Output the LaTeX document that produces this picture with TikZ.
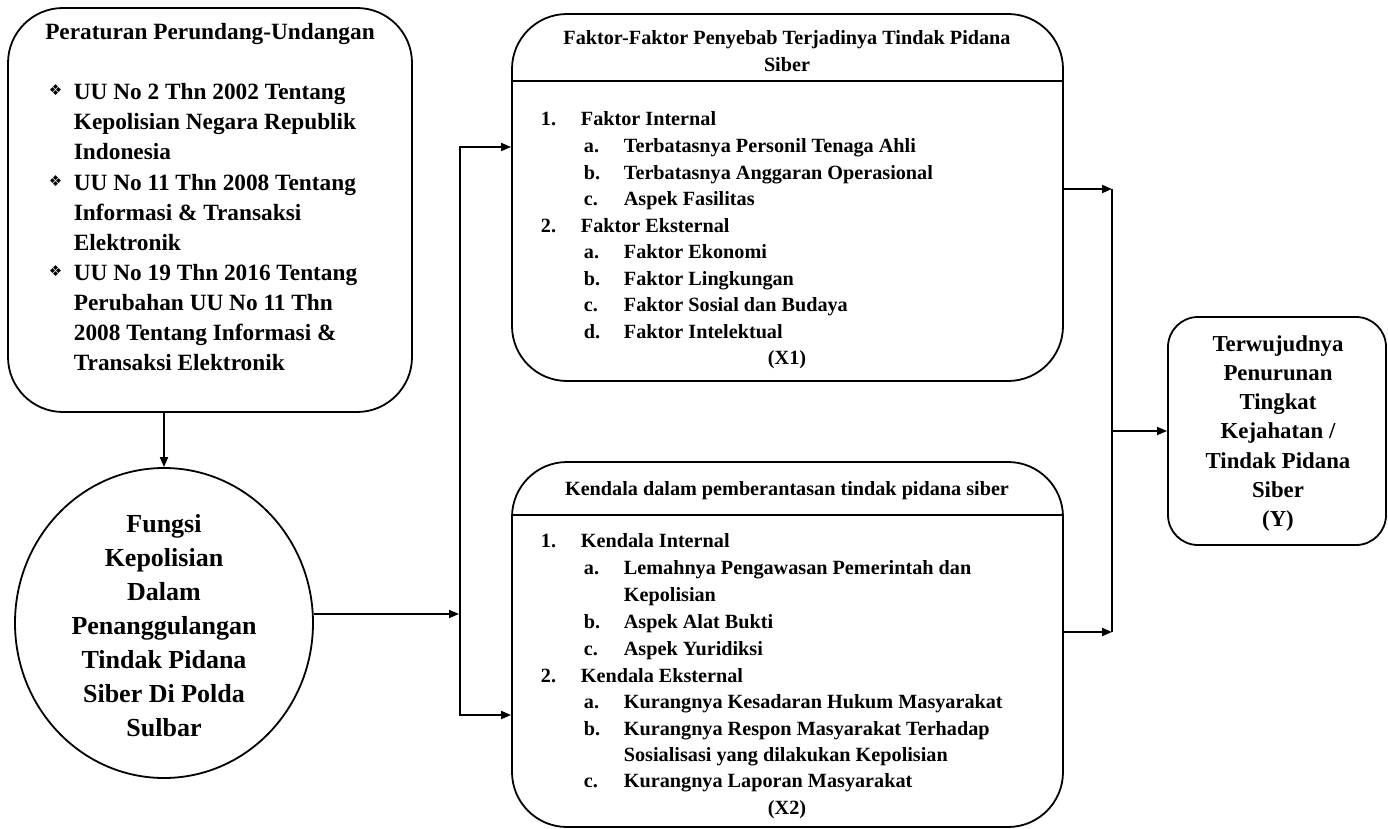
\documentclass[tikz,border=0pt]{standalone}
\usepackage{fontspec}
\setmainfont{Liberation Serif}
\newfontfamily\dejavu{DejaVu Sans}
\usetikzlibrary{arrows.meta,shapes.geometric}
\begin{document}
\begin{tikzpicture}[x=1pt,y=-1pt,
  line width=1.8pt,
  rbox/.style={draw, rectangle, line width=1.8pt, inner sep=0pt},
  arr/.style={-{Triangle[length=10pt,width=8pt]}, line width=1.8pt},
  fL/.style={font=\fontsize{23.3}{30}\selectfont\bfseries, inner sep=0pt},
  fC/.style={font=\fontsize{26}{34}\selectfont\bfseries, inner sep=0pt},
  fX/.style={font=\fontsize{20.2}{26}\selectfont\bfseries, inner sep=0pt},
  fY/.style={font=\fontsize{22.8}{29}\selectfont\bfseries, inner sep=0pt},
  bul/.style={font=\dejavu\fontsize{15}{15}\selectfont, inner sep=0pt},
]
\useasboundingbox (0,0) rectangle (1388,829);
\fill[white] (0,0) rectangle (1388,829);

% boxes
\node[rbox, rounded corners=55pt, minimum width=404pt, minimum height=404pt] (L) at (210,210) {};
\node[draw, ellipse, line width=1.8pt, minimum width=298pt, minimum height=310pt, inner sep=0pt] (C) at (164,623) {};
\node[rbox, rounded corners=55pt, minimum width=551pt, minimum height=367pt] (X1) at (787.5,197.5) {};
\node[rbox, rounded corners=55pt, minimum width=551pt, minimum height=365pt] (X2) at (787.5,644.5) {};
\node[rbox, rounded corners=30pt, minimum width=218pt, minimum height=228pt] (Y) at (1277,431) {};

% header dividers
\coordinate (d1) at (0,81);
\coordinate (d2) at (0,515);
\draw (X1.west |- d1) -- (X1.east |- d1);
\draw (X2.west |- d2) -- (X2.east |- d2);

% left box text
\node[fL, anchor=base] (Lt) at (210,40) {Peraturan Perundang-Undangan};
\foreach \yy in {96,186,276} \node[bul, anchor=base west] (bu\yy) at (48,\yy) {❖};
\foreach \yy/\txt [count=\i] in {100/UU No 2 Thn 2002 Tentang, 130/Kepolisian Negara Republik, 160/Indonesia,
  190/UU No 11 Thn 2008 Tentang, 220/Informasi \& Transaksi, 250/Elektronik,
  280/UU No 19 Thn 2016 Tentang, 310/Perubahan UU No 11 Thn, 340/2008 Tentang Informasi \&, 370/Transaksi Elektronik}
  \node[fL, anchor=base west] (ll\i) at (73,\yy) {\txt};

% circle text
\foreach \yy/\txt [count=\i] in {532/Fungsi, 566/Kepolisian, 600/Dalam, 634/Penanggulangan, 668/Tindak Pidana, 702/Siber Di Polda, 736/Sulbar}
  \node[fC, anchor=base] (cl\i) at (164,\yy) {\txt};

% X1 text
\node[fX, anchor=base] (x1h1) at (787,45) {Faktor-Faktor Penyebab Terjadinya Tindak Pidana};
\node[fX, anchor=base] (x1h2) at (787,72) {Siber};
\foreach \xa/\xb/\yy/\lab/\txt [count=\i] in {
  540/580/126/1./Faktor Internal,
  583/623/152.5/a./Terbatasnya Personil Tenaga Ahli,
  583/623/179/b./Terbatasnya Anggaran Operasional,
  583/623/205.5/c./Aspek Fasilitas,
  540/580/232/2./Faktor Eksternal,
  583/623/258.5/a./Faktor Ekonomi,
  583/623/285/b./Faktor Lingkungan,
  583/623/311.5/c./Faktor Sosial dan Budaya,
  583/623/338/d./Faktor Intelektual}
{
  \node[fX, anchor=base west] (x1n\i) at (\xa,\yy) {\lab};
  \node[fX, anchor=base west] (x1t\i) at (\xb,\yy) {\txt};
}
\node[fX, anchor=base] (x1v) at (787,364.5) {(X1)};

% X2 text
\node[fX, anchor=base] (x2h) at (787,495) {Kendala dalam pemberantasan tindak pidana siber};
\foreach \xa/\xb/\yy/\lab/\txt [count=\i] in {
  540/580/547/1./Kendala Internal,
  583/623/574/a./Lemahnya Pengawasan Pemerintah dan,
  583/623/601//Kepolisian,
  583/623/628/b./Aspek Alat Bukti,
  583/623/655/c./Aspek Yuridiksi,
  540/580/682/2./Kendala Eksternal,
  583/623/708/a./Kurangnya Kesadaran Hukum Masyarakat,
  583/623/735/b./Kurangnya Respon Masyarakat Terhadap,
  583/623/761//Sosialisasi yang dilakukan Kepolisian,
  583/623/787/c./Kurangnya Laporan Masyarakat}
{
  \node[fX, anchor=base west] (x2n\i) at (\xa,\yy) {\lab};
  \node[fX, anchor=base west] (x2t\i) at (\xb,\yy) {\txt};
}
\node[fX, anchor=base] (x2v) at (787,814) {(X2)};

% Y text
\node[fY, anchor=base] (y1) at (1278,351) {Terwujudnya};
\node[fY, anchor=base] (y2) at (1278,380) {Penurunan};
\node[fY, anchor=base] (y3) at (1278,409) {Tingkat};
\node[fY, anchor=base] (y4) at (1278,438) {Kejahatan /};
\node[fY, anchor=base] (y5) at (1278,468) {Tindak Pidana};
\node[fY, anchor=base] (y6) at (1278,497) {Siber};
\node[fY, anchor=base] (y7) at (1278,526) {(Y)};

% connectors
\coordinate (ci) at (459,614);
\coordinate (lt) at (460,147);
\coordinate (lb) at (460,715);
\coordinate (rt) at (1112,189);
\coordinate (rb) at (1112,632);
\draw[arr] (L.south -| C.north) -- (C.north);
\draw[arr] (C.east |- ci) -- (ci);
\draw[arr] (lb) -- (lt) -- (lt -| X1.west);
\draw[arr] (lt) -- (lb) -- (lb -| X2.west);
\draw[arr] (X1.east |- rt) -- (rt);
\draw (rt) -- (rb);
\draw[arr] (X2.east |- rb) -- (rb);
\draw[arr] (Y.west -| rt) -- (Y.west);
\end{tikzpicture}
\end{document}
